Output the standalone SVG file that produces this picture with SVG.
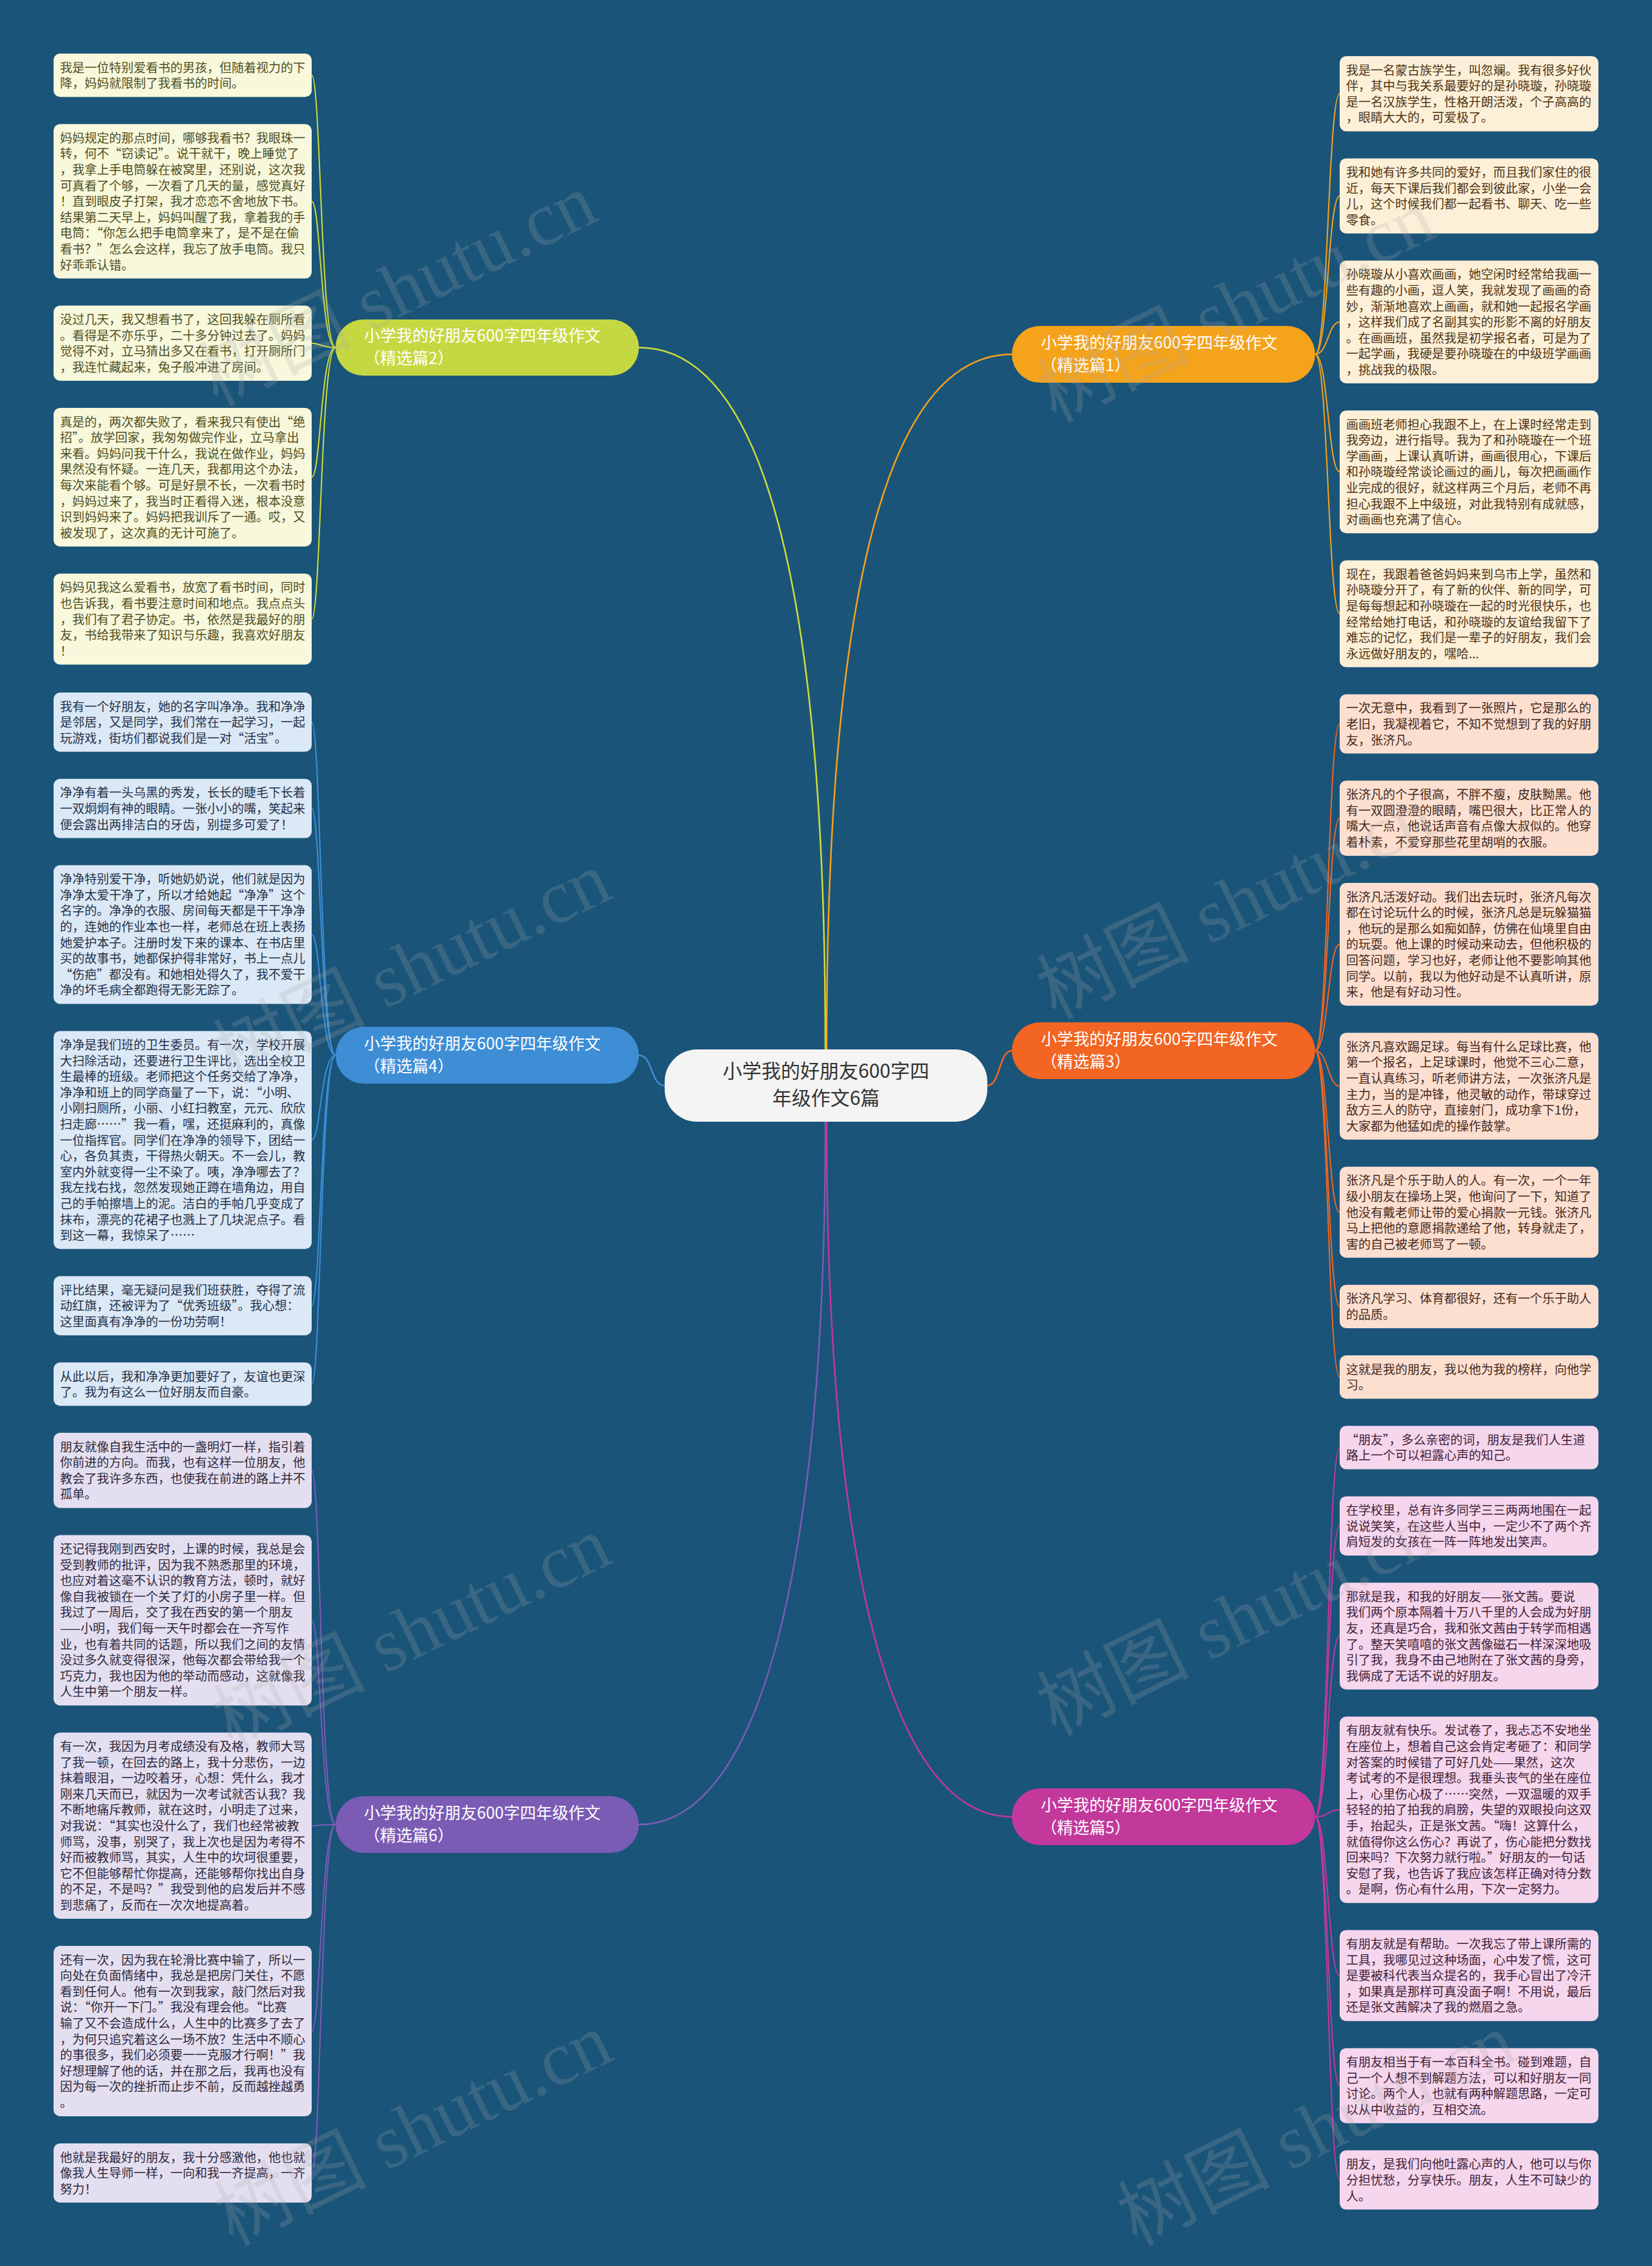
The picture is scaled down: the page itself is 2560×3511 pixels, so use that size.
<svg xmlns="http://www.w3.org/2000/svg" width="2560" height="3511" viewBox="0 0 2560 3511">
<style>
.t{font-family:"Noto Sans CJK SC","Noto Sans CJK JP",sans-serif;font-size:19px;}
.bt{font-family:"Noto Sans CJK SC","Noto Sans CJK JP",sans-serif;font-size:25px;fill:#ffffff;}
.ct{font-family:"Noto Sans CJK SC","Noto Sans CJK JP",sans-serif;font-size:30px;fill:#333333;text-anchor:middle;}
.wm{font-family:"Liberation Serif","Noto Sans CJK SC",serif;font-size:118px;fill:#a8a8a8;fill-opacity:0.22;}
.lime rect{fill:#f7f8dc;} .lime text{fill:#4f4d1c;}
.blue rect{fill:#dbe8f5;} .blue text{fill:#1f3048;}
.purp rect{fill:#e4dff0;} .purp text{fill:#2e283c;}
.oran rect{fill:#fdf0d8;} .oran text{fill:#4e3212;}
.ored rect{fill:#fddfd0;} .ored text{fill:#43281a;}
.mage rect{fill:#f5d6ec;} .mage text{fill:#3e2036;}
.c{fill:none;stroke-width:2.5;}
.s{fill:none;stroke-width:2;}
</style>
<rect x="0" y="0" width="2560" height="3511" fill="#1a5479"/>

<g id="connectors">
<path class="c" stroke="#cddc39" d="M990 538.5 C1180 538.5 1279 900 1279 1626"/>
<path class="c" stroke="#f5a31a" d="M1568 549 C1380 549 1281 900 1281 1626"/>
<path class="c" stroke="#3e8ed6" d="M990 1635 C1012 1635 1008 1682 1030 1682"/>
<path class="c" stroke="#f26522" d="M1530 1682 C1550 1682 1548 1628 1568 1628"/>
<path class="c" stroke="#7a5cb5" d="M990 2827 C1180 2827 1279 2420 1279 1738"/>
<path class="c" stroke="#c2389b" d="M1568 2815 C1380 2815 1281 2420 1281 1738"/>

<g stroke="#cddc39">
<path class="s" d="M520 538.5 C497 538.5 497 116.6 483 116.6"/>
<path class="s" d="M520 538.5 C497 538.5 497 311.9 483 311.9"/>
<path class="s" d="M520 538.5 C497 538.5 497 531.8 483 531.8"/>
<path class="s" d="M520 538.5 C497 538.5 497 739.4 483 739.4"/>
<path class="s" d="M520 538.5 C497 538.5 497 959.3 483 959.3"/>
</g>
<g stroke="#3e8ed6">
<path class="s" d="M520 1635 C497 1635 497 1118.9 483 1118.9"/>
<path class="s" d="M520 1635 C497 1635 497 1252.7 483 1252.7"/>
<path class="s" d="M520 1635 C497 1635 497 1448 483 1448"/>
<path class="s" d="M520 1635 C497 1635 497 1766.3 483 1766.3"/>
<path class="s" d="M520 1635 C497 1635 497 2023.1 483 2023.1"/>
<path class="s" d="M520 1635 C497 1635 497 2144.6 483 2144.6"/>
</g>
<g stroke="#7a5cb5">
<path class="s" d="M520 2827 C497 2827 497 2278.2 483 2278.2"/>
<path class="s" d="M520 2827 C497 2827 497 2510.4 483 2510.4"/>
<path class="s" d="M520 2827 C497 2827 497 2828.7 483 2828.7"/>
<path class="s" d="M520 2827 C497 2827 497 3147 483 3147"/>
<path class="s" d="M520 2827 C497 2827 497 3366.9 483 3366.9"/>
</g>
<g stroke="#f5a31a">
<path class="s" d="M2038 549 C2058 549 2058 145.2 2076 145.2"/>
<path class="s" d="M2038 549 C2058 549 2058 303.6 2076 303.6"/>
<path class="s" d="M2038 549 C2058 549 2058 498.9 2076 498.9"/>
<path class="s" d="M2038 549 C2058 549 2058 731.1 2076 731.1"/>
<path class="s" d="M2038 549 C2058 549 2058 951 2076 951"/>
</g>
<g stroke="#f26522">
<path class="s" d="M2038 1628 C2058 1628 2058 1121.7 2076 1121.7"/>
<path class="s" d="M2038 1628 C2058 1628 2058 1267.8 2076 1267.8"/>
<path class="s" d="M2038 1628 C2058 1628 2058 1463.1 2076 1463.1"/>
<path class="s" d="M2038 1628 C2058 1628 2058 1683 2076 1683"/>
<path class="s" d="M2038 1628 C2058 1628 2058 1878.3 2076 1878.3"/>
<path class="s" d="M2038 1628 C2058 1628 2058 2024.4 2076 2024.4"/>
<path class="s" d="M2038 1628 C2058 1628 2058 2133.6 2076 2133.6"/>
</g>
<g stroke="#c2389b">
<path class="s" d="M2038 2815 C2058 2815 2058 2242.8 2076 2242.8"/>
<path class="s" d="M2038 2815 C2058 2815 2058 2364.3 2076 2364.3"/>
<path class="s" d="M2038 2815 C2058 2815 2058 2535 2076 2535"/>
<path class="s" d="M2038 2815 C2058 2815 2058 2804.1 2076 2804.1"/>
<path class="s" d="M2038 2815 C2058 2815 2058 3060.9 2076 3060.9"/>
<path class="s" d="M2038 2815 C2058 2815 2058 3231.6 2076 3231.6"/>
<path class="s" d="M2038 2815 C2058 2815 2058 3377.7 2076 3377.7"/>
</g>
</g>

<g id="center">
<rect x="1030" y="1626" width="500" height="112" rx="50" fill="#f4f4f4"/>
<text class="ct" x="1280" y="1670">小学我的好朋友600字四<tspan x="1280" dy="42">年级作文6篇</tspan></text>
</g>

<g id="branch2"><rect x="520" y="495" width="470" height="87" rx="43" fill="#c5d842"/><text class="bt" x="564" y="529">小学我的好朋友600字四年级作文<tspan x="564" dy="35">（精选篇2）</tspan></text></g>
<g id="branch1"><rect x="1568" y="505" width="470" height="88" rx="44" fill="#f5a31a"/><text class="bt" x="1613" y="540">小学我的好朋友600字四年级作文<tspan x="1613" dy="35">（精选篇1）</tspan></text></g>
<g id="branch4"><rect x="520" y="1591" width="470" height="88" rx="44" fill="#3e8ed6"/><text class="bt" x="564" y="1626">小学我的好朋友600字四年级作文<tspan x="564" dy="35">（精选篇4）</tspan></text></g>
<g id="branch3"><rect x="1568" y="1584" width="470" height="88" rx="44" fill="#f26522"/><text class="bt" x="1613" y="1619">小学我的好朋友600字四年级作文<tspan x="1613" dy="35">（精选篇3）</tspan></text></g>
<g id="branch6"><rect x="520" y="2783" width="470" height="88" rx="44" fill="#7a5cb5"/><text class="bt" x="564" y="2818">小学我的好朋友600字四年级作文<tspan x="564" dy="35">（精选篇6）</tspan></text></g>
<g id="branch5"><rect x="1568" y="2771" width="470" height="88" rx="44" fill="#c2389b"/><text class="bt" x="1613" y="2806">小学我的好朋友600字四年级作文<tspan x="1613" dy="35">（精选篇5）</tspan></text></g>

<g class="lime">
<g id="p2-1"><rect x="83" y="83" width="400" height="67.2" rx="10"/><text class="t" x="93" y="111.5">我是一位特别爱看书的男孩，但随着视力的下<tspan x="93" dy="24.6">降，妈妈就限制了我看书的时间。</tspan></text></g>
<g id="p2-2"><rect x="83" y="192.2" width="400" height="239.4" rx="10"/><text class="t" x="93" y="220.7">妈妈规定的那点时间，哪够我看书？我眼珠一<tspan x="93" dy="24.6">转，何不“窃读记”。说干就干，晚上睡觉了</tspan><tspan x="93" dy="24.6">，我拿上手电筒躲在被窝里，还别说，这次我</tspan><tspan x="93" dy="24.6">可真看了个够，一次看了几天的量，感觉真好</tspan><tspan x="93" dy="24.6">！直到眼皮子打架，我才恋恋不舍地放下书。</tspan><tspan x="93" dy="24.6">结果第二天早上，妈妈叫醒了我，拿着我的手</tspan><tspan x="93" dy="24.6">电筒：“你怎么把手电筒拿来了，是不是在偷</tspan><tspan x="93" dy="24.6">看书？”怎么会这样，我忘了放手电筒。我只</tspan><tspan x="93" dy="24.6">好乖乖认错。</tspan></text></g>
<g id="p2-3"><rect x="83" y="473.6" width="400" height="116.4" rx="10"/><text class="t" x="93" y="502.1">没过几天，我又想看书了，这回我躲在厕所看<tspan x="93" dy="24.6">。看得是不亦乐乎，二十多分钟过去了。妈妈</tspan><tspan x="93" dy="24.6">觉得不对，立马猜出多又在看书，打开厕所门</tspan><tspan x="93" dy="24.6">，我连忙藏起来，兔子般冲进了房间。</tspan></text></g>
<g id="p2-4"><rect x="83" y="632" width="400" height="214.8" rx="10"/><text class="t" x="93" y="660.5">真是的，两次都失败了，看来我只有使出“绝<tspan x="93" dy="24.6">招”。放学回家，我匆匆做完作业，立马拿出</tspan><tspan x="93" dy="24.6">来看。妈妈问我干什么，我说在做作业，妈妈</tspan><tspan x="93" dy="24.6">果然没有怀疑。一连几天，我都用这个办法，</tspan><tspan x="93" dy="24.6">每次来能看个够。可是好景不长，一次看书时</tspan><tspan x="93" dy="24.6">，妈妈过来了，我当时正看得入迷，根本没意</tspan><tspan x="93" dy="24.6">识到妈妈来了。妈妈把我训斥了一通。哎，又</tspan><tspan x="93" dy="24.6">被发现了，这次真的无计可施了。</tspan></text></g>
<g id="p2-5"><rect x="83" y="888.8" width="400" height="141" rx="10"/><text class="t" x="93" y="917.3">妈妈见我这么爱看书，放宽了看书时间，同时<tspan x="93" dy="24.6">也告诉我，看书要注意时间和地点。我点点头</tspan><tspan x="93" dy="24.6">，我们有了君子协定。书，依然是我最好的朋</tspan><tspan x="93" dy="24.6">友，书给我带来了知识与乐趣，我喜欢好朋友</tspan><tspan x="93" dy="24.6">！</tspan></text></g>
</g>

<g class="blue">
<g id="p4-1"><rect x="83" y="1073" width="400" height="91.8" rx="10"/><text class="t" x="93" y="1101.5">我有一个好朋友，她的名字叫净净。我和净净<tspan x="93" dy="24.6">是邻居，又是同学，我们常在一起学习，一起</tspan><tspan x="93" dy="24.6">玩游戏，街坊们都说我们是一对“活宝”。</tspan></text></g>
<g id="p4-2"><rect x="83" y="1206.8" width="400" height="91.8" rx="10"/><text class="t" x="93" y="1235.3">净净有着一头乌黑的秀发，长长的睫毛下长着<tspan x="93" dy="24.6">一双炯炯有神的眼睛。一张小小的嘴，笑起来</tspan><tspan x="93" dy="24.6">便会露出两排洁白的牙齿，别提多可爱了！</tspan></text></g>
<g id="p4-3"><rect x="83" y="1340.6" width="400" height="214.8" rx="10"/><text class="t" x="93" y="1369.1">净净特别爱干净，听她奶奶说，他们就是因为<tspan x="93" dy="24.6">净净太爱干净了，所以才给她起“净净”这个</tspan><tspan x="93" dy="24.6">名字的。净净的衣服、房间每天都是干干净净</tspan><tspan x="93" dy="24.6">的，连她的作业本也一样，老师总在班上表扬</tspan><tspan x="93" dy="24.6">她爱护本子。注册时发下来的课本、在书店里</tspan><tspan x="93" dy="24.6">买的故事书，她都保护得非常好，书上一点儿</tspan><tspan x="93" dy="24.6">“伤疤”都没有。和她相处得久了，我不爱干</tspan><tspan x="93" dy="24.6">净的坏毛病全都跑得无影无踪了。</tspan></text></g>
<g id="p4-4"><rect x="83" y="1597.4" width="400" height="337.8" rx="10"/><text class="t" x="93" y="1625.9">净净是我们班的卫生委员。有一次，学校开展<tspan x="93" dy="24.6">大扫除活动，还要进行卫生评比，选出全校卫</tspan><tspan x="93" dy="24.6">生最棒的班级。老师把这个任务交给了净净，</tspan><tspan x="93" dy="24.6">净净和班上的同学商量了一下，说：“小明、</tspan><tspan x="93" dy="24.6">小刚扫厕所，小丽、小红扫教室，元元、欣欣</tspan><tspan x="93" dy="24.6">扫走廊……”我一看，嘿，还挺麻利的，真像</tspan><tspan x="93" dy="24.6">一位指挥官。同学们在净净的领导下，团结一</tspan><tspan x="93" dy="24.6">心，各负其责，干得热火朝天。不一会儿，教</tspan><tspan x="93" dy="24.6">室内外就变得一尘不染了。咦，净净哪去了？</tspan><tspan x="93" dy="24.6">我左找右找，忽然发现她正蹲在墙角边，用自</tspan><tspan x="93" dy="24.6">己的手帕擦墙上的泥。洁白的手帕几乎变成了</tspan><tspan x="93" dy="24.6">抹布，漂亮的花裙子也溅上了几块泥点子。看</tspan><tspan x="93" dy="24.6">到这一幕，我惊呆了……</tspan></text></g>
<g id="p4-5"><rect x="83" y="1977.2" width="400" height="91.8" rx="10"/><text class="t" x="93" y="2005.7">评比结果，毫无疑问是我们班获胜，夺得了流<tspan x="93" dy="24.6">动红旗，还被评为了“优秀班级”。我心想：</tspan><tspan x="93" dy="24.6">这里面真有净净的一份功劳啊！</tspan></text></g>
<g id="p4-6"><rect x="83" y="2111" width="400" height="67.2" rx="10"/><text class="t" x="93" y="2139.5">从此以后，我和净净更加要好了，友谊也更深<tspan x="93" dy="24.6">了。我为有这么一位好朋友而自豪。</tspan></text></g>
</g>

<g class="purp">
<g id="p6-1"><rect x="83" y="2220" width="400" height="116.4" rx="10"/><text class="t" x="93" y="2248.5">朋友就像自我生活中的一盏明灯一样，指引着<tspan x="93" dy="24.6">你前进的方向。而我，也有这样一位朋友，他</tspan><tspan x="93" dy="24.6">教会了我许多东西，也使我在前进的路上并不</tspan><tspan x="93" dy="24.6">孤单。</tspan></text></g>
<g id="p6-2"><rect x="83" y="2378.4" width="400" height="264" rx="10"/><text class="t" x="93" y="2406.9">还记得我刚到西安时，上课的时候，我总是会<tspan x="93" dy="24.6">受到教师的批评，因为我不熟悉那里的环境，</tspan><tspan x="93" dy="24.6">也应对着这毫不认识的教育方法，顿时，就好</tspan><tspan x="93" dy="24.6">像自我被锁在一个关了灯的小房子里一样。但</tspan><tspan x="93" dy="24.6">我过了一周后，交了我在西安的第一个朋友</tspan><tspan x="93" dy="24.6">——小明，我们每一天午时都会在一齐写作</tspan><tspan x="93" dy="24.6">业，也有着共同的话题，所以我们之间的友情</tspan><tspan x="93" dy="24.6">没过多久就变得很深，他每次都会带给我一个</tspan><tspan x="93" dy="24.6">巧克力，我也因为他的举动而感动，这就像我</tspan><tspan x="93" dy="24.6">人生中第一个朋友一样。</tspan></text></g>
<g id="p6-3"><rect x="83" y="2684.4" width="400" height="288.6" rx="10"/><text class="t" x="93" y="2712.9">有一次，我因为月考成绩没有及格，教师大骂<tspan x="93" dy="24.6">了我一顿，在回去的路上，我十分悲伤，一边</tspan><tspan x="93" dy="24.6">抹着眼泪，一边咬着牙，心想：凭什么，我才</tspan><tspan x="93" dy="24.6">刚来几天而已，就因为一次考试就否认我？我</tspan><tspan x="93" dy="24.6">不断地痛斥教师，就在这时，小明走了过来，</tspan><tspan x="93" dy="24.6">对我说：“其实也没什么了，我们也经常被教</tspan><tspan x="93" dy="24.6">师骂，没事，别哭了，我上次也是因为考得不</tspan><tspan x="93" dy="24.6">好而被教师骂，其实，人生中的坎坷很重要，</tspan><tspan x="93" dy="24.6">它不但能够帮忙你提高，还能够帮你找出自身</tspan><tspan x="93" dy="24.6">的不足，不是吗？”我受到他的启发后并不感</tspan><tspan x="93" dy="24.6">到悲痛了，反而在一次次地提高着。</tspan></text></g>
<g id="p6-4"><rect x="83" y="3015" width="400" height="264" rx="10"/><text class="t" x="93" y="3043.5">还有一次，因为我在轮滑比赛中输了，所以一<tspan x="93" dy="24.6">向处在负面情绪中，我总是把房门关住，不愿</tspan><tspan x="93" dy="24.6">看到任何人。他有一次到我家，敲门然后对我</tspan><tspan x="93" dy="24.6">说：“你开一下门。”我没有理会他。“比赛</tspan><tspan x="93" dy="24.6">输了又不会造成什么，人生中的比赛多了去了</tspan><tspan x="93" dy="24.6">，为何只追究着这么一场不放？生活中不顺心</tspan><tspan x="93" dy="24.6">的事很多，我们必须要一一克服才行啊！”我</tspan><tspan x="93" dy="24.6">好想理解了他的话，并在那之后，我再也没有</tspan><tspan x="93" dy="24.6">因为每一次的挫折而止步不前，反而越挫越勇</tspan><tspan x="93" dy="24.6">。</tspan></text></g>
<g id="p6-5"><rect x="83" y="3321" width="400" height="91.8" rx="10"/><text class="t" x="93" y="3349.5">他就是我最好的朋友，我十分感激他，他也就<tspan x="93" dy="24.6">像我人生导师一样，一向和我一齐提高，一齐</tspan><tspan x="93" dy="24.6">努力！</tspan></text></g>
</g>

<g class="oran">
<g id="p1-1"><rect x="2076" y="87" width="401" height="116.4" rx="10"/><text class="t" x="2086" y="115.5">我是一名蒙古族学生，叫忽斓。我有很多好伙<tspan x="2086" dy="24.6">伴，其中与我关系最要好的是孙晓璇，孙晓璇</tspan><tspan x="2086" dy="24.6">是一名汉族学生，性格开朗活泼，个子高高的</tspan><tspan x="2086" dy="24.6">，眼睛大大的，可爱极了。</tspan></text></g>
<g id="p1-2"><rect x="2076" y="245.4" width="401" height="116.4" rx="10"/><text class="t" x="2086" y="273.9">我和她有许多共同的爱好，而且我们家住的很<tspan x="2086" dy="24.6">近，每天下课后我们都会到彼此家，小坐一会</tspan><tspan x="2086" dy="24.6">儿，这个时候我们都一起看书、聊天、吃一些</tspan><tspan x="2086" dy="24.6">零食。</tspan></text></g>
<g id="p1-3"><rect x="2076" y="403.8" width="401" height="190.2" rx="10"/><text class="t" x="2086" y="432.3">孙晓璇从小喜欢画画，她空闲时经常给我画一<tspan x="2086" dy="24.6">些有趣的小画，逗人笑，我就发现了画画的奇</tspan><tspan x="2086" dy="24.6">妙，渐渐地喜欢上画画，就和她一起报名学画</tspan><tspan x="2086" dy="24.6">，这样我们成了名副其实的形影不离的好朋友</tspan><tspan x="2086" dy="24.6">。在画画班，虽然我是初学报名者，可是为了</tspan><tspan x="2086" dy="24.6">一起学画，我硬是要孙晓璇在的中级班学画画</tspan><tspan x="2086" dy="24.6">，挑战我的极限。</tspan></text></g>
<g id="p1-4"><rect x="2076" y="636" width="401" height="190.2" rx="10"/><text class="t" x="2086" y="664.5">画画班老师担心我跟不上，在上课时经常走到<tspan x="2086" dy="24.6">我旁边，进行指导。我为了和孙晓璇在一个班</tspan><tspan x="2086" dy="24.6">学画画，上课认真听讲，画画很用心，下课后</tspan><tspan x="2086" dy="24.6">和孙晓璇经常谈论画过的画儿，每次把画画作</tspan><tspan x="2086" dy="24.6">业完成的很好，就这样两三个月后，老师不再</tspan><tspan x="2086" dy="24.6">担心我跟不上中级班，对此我特别有成就感，</tspan><tspan x="2086" dy="24.6">对画画也充满了信心。</tspan></text></g>
<g id="p1-5"><rect x="2076" y="868.2" width="401" height="165.6" rx="10"/><text class="t" x="2086" y="896.7">现在，我跟着爸爸妈妈来到乌市上学，虽然和<tspan x="2086" dy="24.6">孙晓璇分开了，有了新的伙伴、新的同学，可</tspan><tspan x="2086" dy="24.6">是每每想起和孙晓璇在一起的时光很快乐，也</tspan><tspan x="2086" dy="24.6">经常给她打电话，和孙晓璇的友谊给我留下了</tspan><tspan x="2086" dy="24.6">难忘的记忆，我们是一辈子的好朋友，我们会</tspan><tspan x="2086" dy="24.6">永远做好朋友的，嘿哈...</tspan></text></g>
</g>

<g class="ored">
<g id="p3-1"><rect x="2076" y="1075.8" width="401" height="91.8" rx="10"/><text class="t" x="2086" y="1104.3">一次无意中，我看到了一张照片，它是那么的<tspan x="2086" dy="24.6">老旧，我凝视着它，不知不觉想到了我的好朋</tspan><tspan x="2086" dy="24.6">友，张济凡。</tspan></text></g>
<g id="p3-2"><rect x="2076" y="1209.6" width="401" height="116.4" rx="10"/><text class="t" x="2086" y="1238.1">张济凡的个子很高，不胖不瘦，皮肤黝黑。他<tspan x="2086" dy="24.6">有一双圆澄澄的眼睛，嘴巴很大，比正常人的</tspan><tspan x="2086" dy="24.6">嘴大一点，他说话声音有点像大叔似的。他穿</tspan><tspan x="2086" dy="24.6">着朴素，不爱穿那些花里胡哨的衣服。</tspan></text></g>
<g id="p3-3"><rect x="2076" y="1368" width="401" height="190.2" rx="10"/><text class="t" x="2086" y="1396.5">张济凡活泼好动。我们出去玩时，张济凡每次<tspan x="2086" dy="24.6">都在讨论玩什么的时候，张济凡总是玩躲猫猫</tspan><tspan x="2086" dy="24.6">，他玩的是那么如痴如醉，仿佛在仙境里自由</tspan><tspan x="2086" dy="24.6">的玩耍。他上课的时候动来动去，但他积极的</tspan><tspan x="2086" dy="24.6">回答问题，学习也好，老师让他不要影响其他</tspan><tspan x="2086" dy="24.6">同学。以前，我以为他好动是不认真听讲，原</tspan><tspan x="2086" dy="24.6">来，他是有好动习性。</tspan></text></g>
<g id="p3-4"><rect x="2076" y="1600.2" width="401" height="165.6" rx="10"/><text class="t" x="2086" y="1628.7">张济凡喜欢踢足球。每当有什么足球比赛，他<tspan x="2086" dy="24.6">第一个报名，上足球课时，他觉不三心二意，</tspan><tspan x="2086" dy="24.6">一直认真练习，听老师讲方法，一次张济凡是</tspan><tspan x="2086" dy="24.6">主力，当的是冲锋，他灵敏的动作，带球穿过</tspan><tspan x="2086" dy="24.6">敌方三人的防守，直接射门，成功拿下1份，</tspan><tspan x="2086" dy="24.6">大家都为他猛如虎的操作鼓掌。</tspan></text></g>
<g id="p3-5"><rect x="2076" y="1807.8" width="401" height="141" rx="10"/><text class="t" x="2086" y="1836.3">张济凡是个乐于助人的人。有一次，一个一年<tspan x="2086" dy="24.6">级小朋友在操场上哭，他询问了一下，知道了</tspan><tspan x="2086" dy="24.6">他没有戴老师让带的爱心捐款一元钱。张济凡</tspan><tspan x="2086" dy="24.6">马上把他的意愿捐款递给了他，转身就走了，</tspan><tspan x="2086" dy="24.6">害的自己被老师骂了一顿。</tspan></text></g>
<g id="p3-6"><rect x="2076" y="1990.8" width="401" height="67.2" rx="10"/><text class="t" x="2086" y="2019.3">张济凡学习、体育都很好，还有一个乐于助人<tspan x="2086" dy="24.6">的品质。</tspan></text></g>
<g id="p3-7"><rect x="2076" y="2100" width="401" height="67.2" rx="10"/><text class="t" x="2086" y="2128.5">这就是我的朋友，我以他为我的榜样，向他学<tspan x="2086" dy="24.6">习。</tspan></text></g>
</g>

<g class="mage">
<g id="p5-1"><rect x="2076" y="2209.2" width="401" height="67.2" rx="10"/><text class="t" x="2086" y="2237.7">“朋友”，多么亲密的词，朋友是我们人生道<tspan x="2086" dy="24.6">路上一个可以袒露心声的知己。</tspan></text></g>
<g id="p5-2"><rect x="2076" y="2318.4" width="401" height="91.8" rx="10"/><text class="t" x="2086" y="2346.9">在学校里，总有许多同学三三两两地围在一起<tspan x="2086" dy="24.6">说说笑笑，在这些人当中，一定少不了两个齐</tspan><tspan x="2086" dy="24.6">肩短发的女孩在一阵一阵地发出笑声。</tspan></text></g>
<g id="p5-3"><rect x="2076" y="2452.2" width="401" height="165.6" rx="10"/><text class="t" x="2086" y="2480.7">那就是我，和我的好朋友——张文茜。要说<tspan x="2086" dy="24.6">我们两个原本隔着十万八千里的人会成为好朋</tspan><tspan x="2086" dy="24.6">友，还真是巧合，我和张文茜由于转学而相遇</tspan><tspan x="2086" dy="24.6">了。整天笑嘻嘻的张文茜像磁石一样深深地吸</tspan><tspan x="2086" dy="24.6">引了我，我身不由己地附在了张文茜的身旁，</tspan><tspan x="2086" dy="24.6">我俩成了无话不说的好朋友。</tspan></text></g>
<g id="p5-4"><rect x="2076" y="2659.8" width="401" height="288.6" rx="10"/><text class="t" x="2086" y="2688.3">有朋友就有快乐。发试卷了，我忐忑不安地坐<tspan x="2086" dy="24.6">在座位上，想着自己这会肯定考砸了：和同学</tspan><tspan x="2086" dy="24.6">对答案的时候错了可好几处——果然，这次</tspan><tspan x="2086" dy="24.6">考试考的不是很理想。我垂头丧气的坐在座位</tspan><tspan x="2086" dy="24.6">上，心里伤心极了……突然，一双温暖的双手</tspan><tspan x="2086" dy="24.6">轻轻的拍了拍我的肩膀，失望的双眼投向这双</tspan><tspan x="2086" dy="24.6">手，抬起头，正是张文茜。“嗨！这算什么，</tspan><tspan x="2086" dy="24.6">就值得你这么伤心？再说了，伤心能把分数找</tspan><tspan x="2086" dy="24.6">回来吗？下次努力就行啦。”好朋友的一句话</tspan><tspan x="2086" dy="24.6">安慰了我，也告诉了我应该怎样正确对待分数</tspan><tspan x="2086" dy="24.6">。是啊，伤心有什么用，下次一定努力。</tspan></text></g>
<g id="p5-5"><rect x="2076" y="2990.4" width="401" height="141" rx="10"/><text class="t" x="2086" y="3018.9">有朋友就是有帮助。一次我忘了带上课所需的<tspan x="2086" dy="24.6">工具，我哪见过这种场面，心中发了慌，这可</tspan><tspan x="2086" dy="24.6">是要被科代表当众提名的，我手心冒出了冷汗</tspan><tspan x="2086" dy="24.6">，如果真是那样可真没面子啊！不用说，最后</tspan><tspan x="2086" dy="24.6">还是张文茜解决了我的燃眉之急。</tspan></text></g>
<g id="p5-6"><rect x="2076" y="3173.4" width="401" height="116.4" rx="10"/><text class="t" x="2086" y="3201.9">有朋友相当于有一本百科全书。碰到难题，自<tspan x="2086" dy="24.6">己一个人想不到解题方法，可以和好朋友一同</tspan><tspan x="2086" dy="24.6">讨论。两个人，也就有两种解题思路，一定可</tspan><tspan x="2086" dy="24.6">以从中收益的，互相交流。</tspan></text></g>
<g id="p5-7"><rect x="2076" y="3331.8" width="401" height="91.8" rx="10"/><text class="t" x="2086" y="3360.3">朋友，是我们向他吐露心声的人，他可以与你<tspan x="2086" dy="24.6">分担忧愁，分享快乐。朋友，人生不可缺少的</tspan><tspan x="2086" dy="24.6">人。</tspan></text></g>
</g>

<g id="watermarks">
<text class="wm" transform="translate(336 630) rotate(-26)">树图 shutu.cn</text>
<text class="wm" transform="translate(1635 655) rotate(-26)">树图 shutu.cn</text>
<text class="wm" transform="translate(358 1680) rotate(-26)">树图 shutu.cn</text>
<text class="wm" transform="translate(1635 1580) rotate(-26)">树图 shutu.cn</text>
<text class="wm" transform="translate(358 2710) rotate(-26)">树图 shutu.cn</text>
<text class="wm" transform="translate(1635 2690) rotate(-26)">树图 shutu.cn</text>
<text class="wm" transform="translate(360 3480) rotate(-26)">树图 shutu.cn</text>
<text class="wm" transform="translate(1760 3480) rotate(-26)">树图 shutu.cn</text>
</g>
</svg>
